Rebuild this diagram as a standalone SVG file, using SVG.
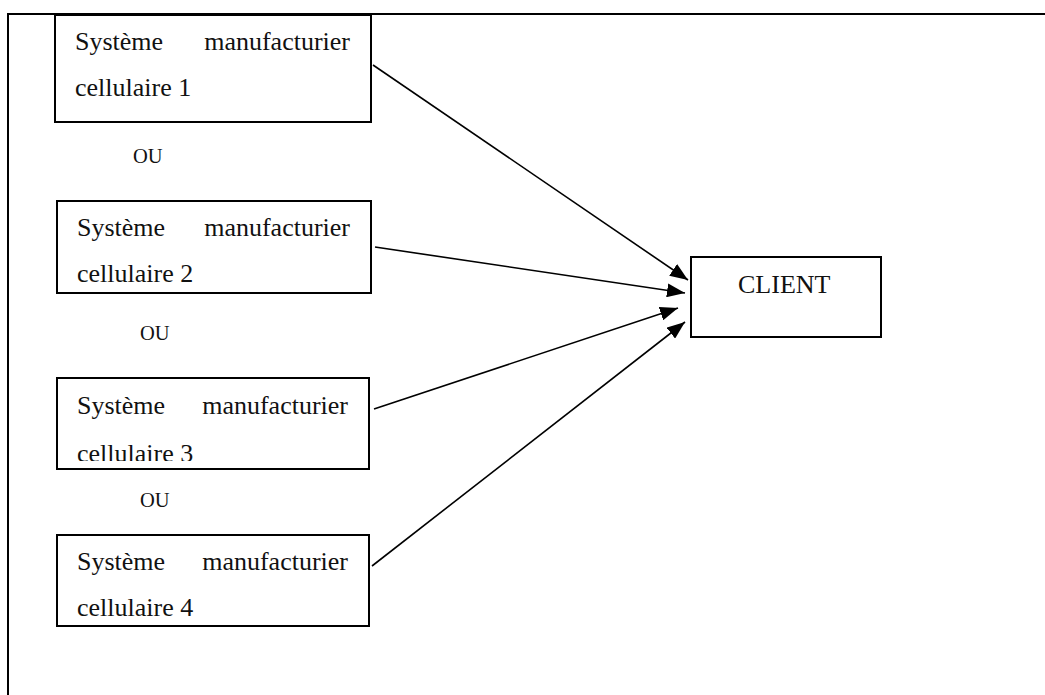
<svg xmlns="http://www.w3.org/2000/svg" width="1045" height="695" viewBox="0 0 1045 695">
  <style>
    .box { fill: #fff; stroke: #000; stroke-width: 2; }
    .lbl { font-family: "Liberation Serif", "Times New Roman", serif; font-size: 26px; fill: #111; }
    .ou { font-family: "Liberation Serif", "Times New Roman", serif; font-size: 20.5px; fill: #111; }
    .edge { stroke: #000; stroke-width: 1.6; fill: none; marker-end: url(#head); }
    .frame { stroke: #000; stroke-width: 2; fill: none; }
  </style>
  <defs>
    <marker id="head" viewBox="0 0 18 14" refX="18" refY="7" markerWidth="18" markerHeight="14" markerUnits="userSpaceOnUse" orient="auto">
      <path d="M0,0 L18,7 L0,14 Z" fill="#000"/>
    </marker>
    <clipPath id="clip3">
      <rect x="57" y="378" width="312" height="83"/>
    </clipPath>
  </defs>

  <rect width="1045" height="695" fill="#fff"/>

  <!-- page frame -->
  <path class="frame" d="M8,695 L8,14 L1045,14"/>

  <g id="cell1">
    <rect class="box" x="55" y="15" width="316" height="107"/>
    <text class="lbl" x="75" y="50">Système</text>
    <text class="lbl" x="350" y="50" text-anchor="end">manufacturier</text>
    <text class="lbl" x="75" y="96">cellulaire 1</text>
  </g>

  <text class="ou" x="133" y="163">OU</text>

  <g id="cell2">
    <rect class="box" x="57" y="201" width="314" height="92"/>
    <text class="lbl" x="77" y="236">Système</text>
    <text class="lbl" x="350" y="236" text-anchor="end">manufacturier</text>
    <text class="lbl" x="77" y="282">cellulaire 2</text>
  </g>

  <text class="ou" x="140" y="340">OU</text>

  <g id="cell3">
    <rect class="box" x="57" y="378" width="312" height="91"/>
    <g clip-path="url(#clip3)">
      <text class="lbl" x="77" y="414">Système</text>
      <text class="lbl" x="348" y="414" text-anchor="end">manufacturier</text>
      <text class="lbl" x="77" y="462">cellulaire 3</text>
    </g>
  </g>

  <text class="ou" x="140" y="507">OU</text>

  <g id="cell4">
    <rect class="box" x="57" y="535" width="312" height="91"/>
    <text class="lbl" x="77" y="570">Système</text>
    <text class="lbl" x="348" y="570" text-anchor="end">manufacturier</text>
    <text class="lbl" x="77" y="616">cellulaire 4</text>
  </g>

  <g id="client">
    <rect class="box" x="691" y="257" width="190" height="80"/>
    <text class="lbl" x="738" y="293">CLIENT</text>
  </g>

  <g id="connectors">
    <line class="edge" x1="373" y1="65" x2="688" y2="280"/>
    <line class="edge" x1="375" y1="247" x2="685" y2="293"/>
    <line class="edge" x1="374" y1="409" x2="678" y2="308"/>
    <line class="edge" x1="372" y1="566" x2="685" y2="322"/>
  </g>
</svg>
